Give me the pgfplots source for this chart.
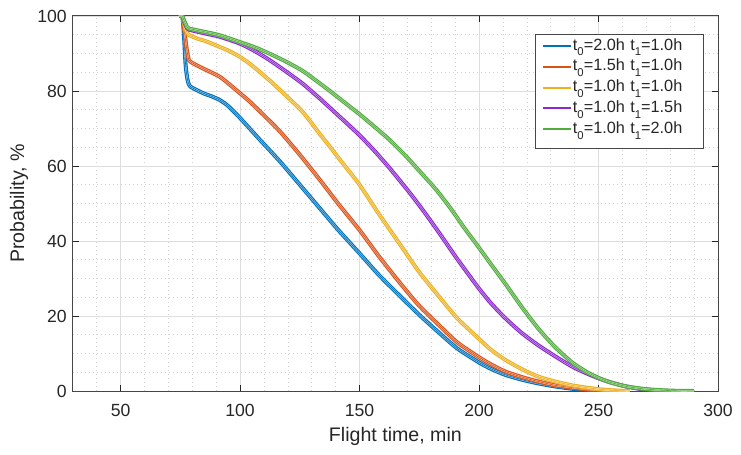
\documentclass[border=0pt]{standalone}
\usepackage{fontspec}
\setmainfont{Liberation Sans}
\usepackage{pgfplots}
\pgfplotsset{compat=1.18}
\usepackage{pgfplotstable}

\definecolor{cb}{RGB}{0,114,189}
\definecolor{co}{RGB}{217,83,25}
\definecolor{cy}{RGB}{237,177,32}
\definecolor{cp}{RGB}{140,40,205}
\definecolor{cg}{RGB}{80,172,60}
\definecolor{txt}{RGB}{38,38,38}
\definecolor{axc}{RGB}{70,70,70}

\newcommand{\sub}[1]{\raisebox{-0.35em}{\fontsize{8.5}{9}\selectfont #1}}

\pgfplotstableread{
x y
74.5 100
75.8 100
76.5 95
77.2 87
78 83
79 81.3
82 80.2
85 79.3
88 78.6
91.5 77.6
95 76.0
100 72.8
108 67.2
116.7 61.2
125 55
133.4 48.7
141 43
150 36.7
158 31
166.8 25.4
175 20.3
183.5 15.4
191 11.3
200 7.6
205 5.9
211 4.3
218 3.0
225 2.0
232 1.2
239 0.6
245 0.3
250 0.12
256 0
}\tblue

\pgfplotstableread{
x y
74.5 100
75.8 100
76.5 97
77.5 92
78.5 88.4
80 87.5
84.5 86
91.5 83.8
98.3 80.3
104 77.2
110 73.5
116.7 69.2
125 63
133.4 56.3
141 50
150 42.9
158 36
166.8 28.9
175 22.7
183.5 17.4
191 12.9
200 9
205 7.1
211 5.2
218 3.7
225 2.5
232 1.5
239 0.9
245 0.45
250 0.2
258 0
}\torange

\pgfplotstableread{
x y
74.5 100
75.8 100
76.5 98
77.5 96
78.5 95
82 94
86 93.2
91.3 91.8
95 90.8
99.7 89.2
105 86.8
112.2 82.9
118 79.5
126.1 74.5
133.4 68.5
137.4 65.3
143 60.7
150 55
158 47.3
166.8 39.2
175 31.7
183.5 25.0
191 19.3
200 13.9
205 11
211 8.3
218 5.8
225 3.8
232 2.5
239 1.5
245 0.9
250 0.5
255 0.2
263 0
}\tyellow

\pgfplotstableread{
x y
74.5 100
75.8 100
76.5 98.6
77.5 97.2
78.5 96.4
85 95.4
91.3 94.5
99.7 92.7
106 90.7
112.2 88.3
119 85.3
126.1 82
133 78.2
138.5 75.0
146 70.6
150 68.2
156 64.2
162.5 59.5
170.8 53
177 47.8
183.5 42
190 36
195 31.6
200 27.3
205 23.4
211 19.4
218 15.4
225 12.1
232 9.2
239 6.5
245 4.7
250 3.4
255 2.3
261 1.3
267 0.6
273 0.2
280 0
}\tpurple

\pgfplotstableread{
x y
74.5 100
75.8 100
76.5 98.9
77.5 97.5
78.5 96.7
85 95.8
91.3 94.9
99.7 93.1
106 91.7
112.2 90
119 87.9
126.1 85.4
133 82.2
137.4 80.1
144 76.8
150 73.8
156 70.6
162.5 67.0
169 62.9
175 58.7
181.9 53.8
188 48.8
193.7 43.6
200 38.2
205 33.8
211 28.6
218 22.3
225 16.5
232 11.6
239 7.6
245 5.1
250 3.5
255 2.3
261 1.3
267 0.7
275 0.25
283 0.05
290 0
}\tgreen

\newcommand{\band}[2]{%
  \addplot[#1, line width=3pt, smooth, tension=0.4, line join=round, forget plot] table[x=x,y=y] {#2};
  \addplot[#1!40!white, line width=1.3pt, smooth, tension=0.4, line join=round, forget plot] table[x=x,y=y] {#2};
  \addplot[#1, line width=0.45pt, smooth, tension=0.4, line join=round, forget plot] table[x=x,y=y] {#2};
}

\begin{document}
\begin{tikzpicture}
\useasboundingbox (-54.6pt,-47.25pt) rectangle (501.15pt,293.25pt);
\begin{axis}[
  scale only axis, width=483.9pt, height=281.25pt,
  at={(0,0)}, anchor=south west,
  xmin=30, xmax=300, ymin=0, ymax=100,
  xtick={50,100,...,300}, ytick={0,20,...,100},
  minor xtick={30,40,...,300}, minor ytick={0,5,...,100},
  grid=both,
  major grid style={draw={rgb,255:red,222;green,222;blue,222}, line width=0.6pt},
  minor grid style={draw={rgb,255:red,212;green,212;blue,212}, line width=0.5pt, dash pattern=on 0.75pt off 2.25pt},
  tick align=inside, major tick length=4.8pt, minor tick length=0pt,
  axis line style={draw=axc, line width=0.75pt},
  major tick style={draw=txt, line width=0.75pt},
  ticklabel style={font=\fontsize{13.2}{15}\selectfont, text=txt},
  /pgf/number format/assume math mode=true,
  xticklabel style={yshift=-6pt},
  yticklabel style={xshift=-1pt},
  xlabel={Flight time, min}, ylabel={Probability, \%},
  label style={font=\fontsize{14.7}{17}\selectfont, text=txt},
  xlabel style={at={(axis description cs:0.5,-0.12)}, anchor=center},
  ylabel style={at={(axis description cs:-0.0834,0.5)}, anchor=center},
  legend cell align=left,
  legend image code/.code={\draw[#1, line width=1.5pt] (0pt,2.8pt) -- (20.8pt,2.8pt);},
  legend style={at={(1,1)}, anchor=north east, xshift=-10.5pt, yshift=-13.5pt,
    draw=axc, line width=0.6pt, fill=white, inner xsep=5pt, inner ysep=3.7pt,
    font=\fontsize{12.2}{14}\selectfont, text=txt, row sep=0pt, column sep=1pt,
    nodes={inner sep=0pt, text height=8.1pt, text depth=7.5pt, text width=93pt, align=left}},
]
\band{cb}{\tblue}
\band{co}{\torange}
\band{cy}{\tyellow}
\band{cp}{\tpurple}
\band{cg}{\tgreen}
\addlegendimage{cb}
\addlegendentry{t\sub{0}=2.0h t\sub{1}=1.0h}
\addlegendimage{co}
\addlegendentry{t\sub{0}=1.5h t\sub{1}=1.0h}
\addlegendimage{cy}
\addlegendentry{t\sub{0}=1.0h t\sub{1}=1.0h}
\addlegendimage{cp}
\addlegendentry{t\sub{0}=1.0h t\sub{1}=1.5h}
\addlegendimage{cg}
\addlegendentry{t\sub{0}=1.0h t\sub{1}=2.0h}
\end{axis}
\end{tikzpicture}
\end{document}
